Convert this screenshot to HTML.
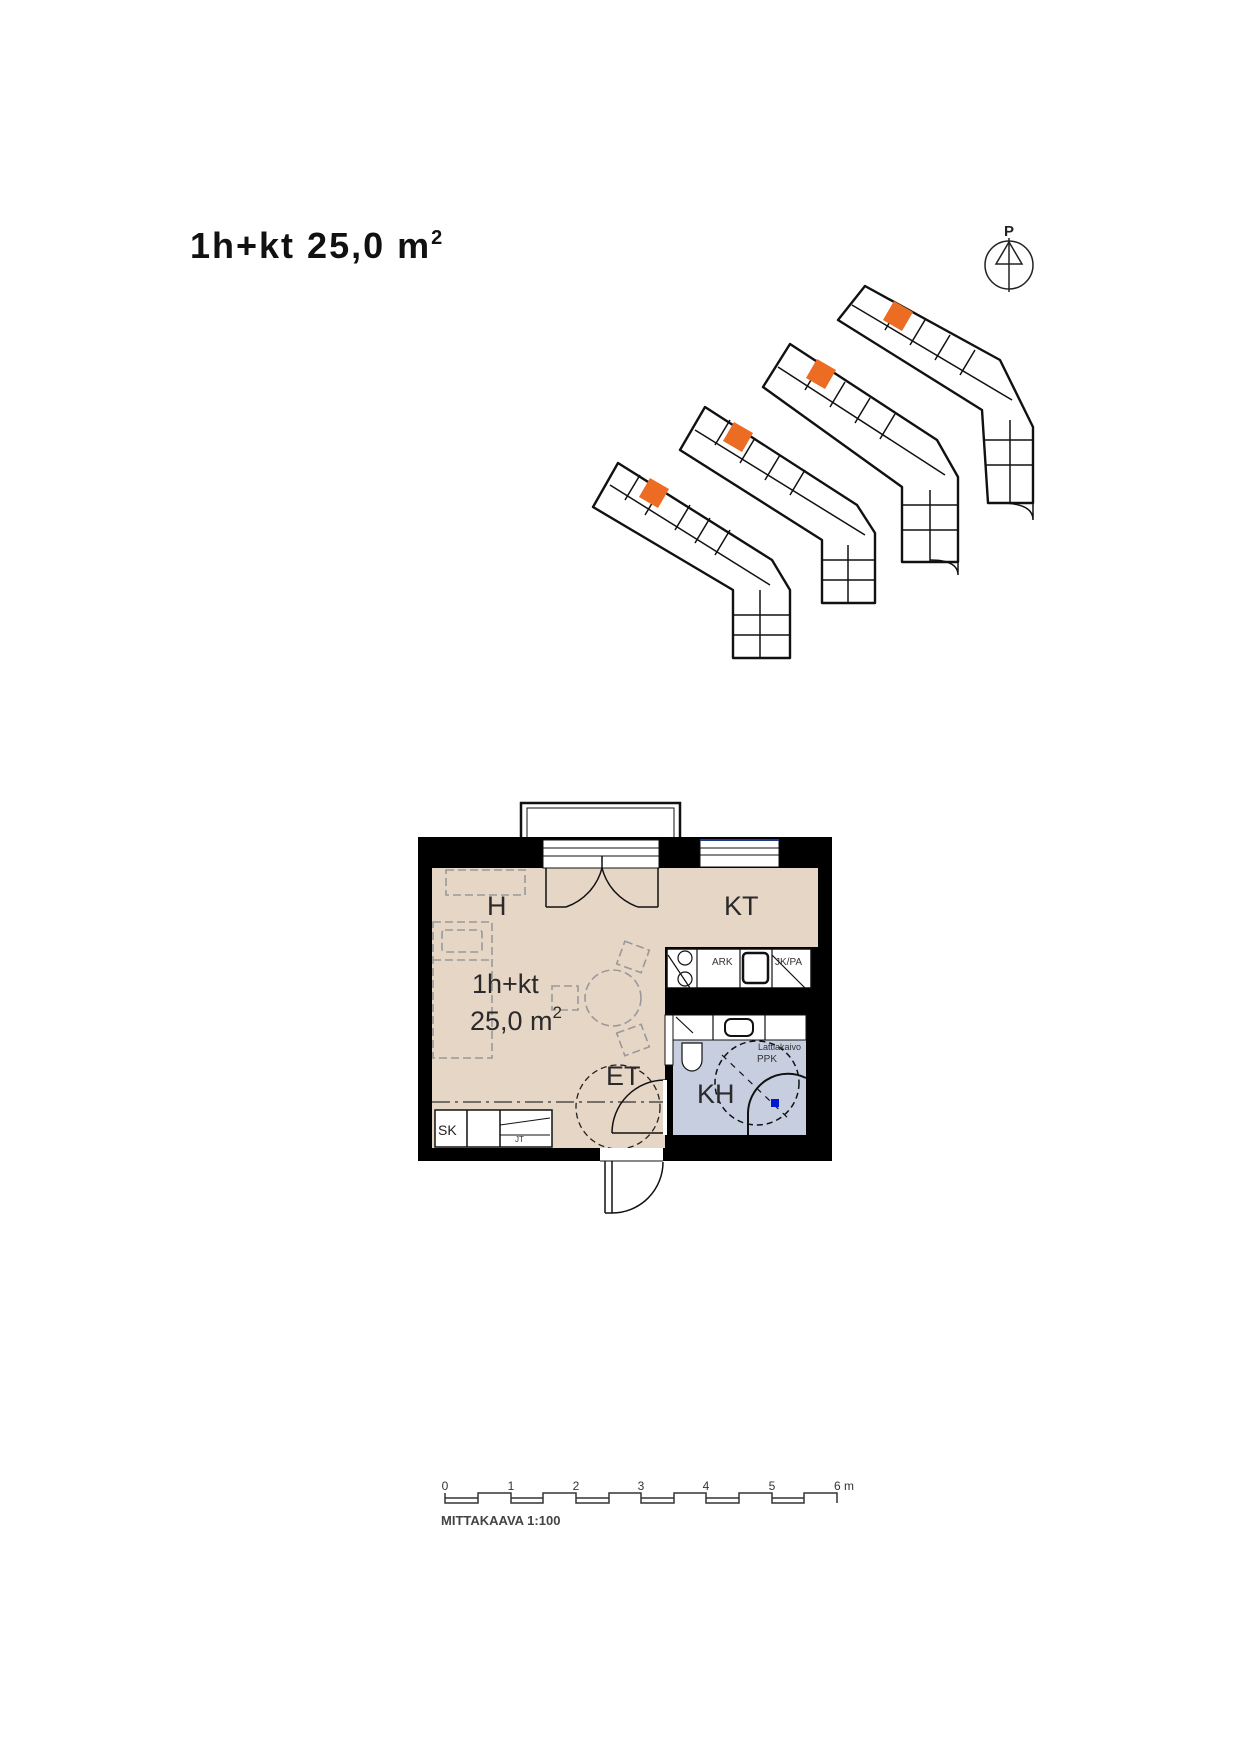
<!DOCTYPE html>
<html><head><meta charset="utf-8"><style>
html,body{margin:0;padding:0;background:#fff}
svg{display:block}
</style></head><body>
<svg width="1240" height="1754" viewBox="0 0 1240 1754" xmlns="http://www.w3.org/2000/svg" font-family="Liberation Sans, sans-serif">
<text x="190" y="258" font-size="36" font-weight="bold" fill="#111" letter-spacing="2">1h+kt 25,0 m<tspan font-size="20" dy="-14">2</tspan></text>

<!-- north arrow -->
<text x="1009" y="236" font-size="15" font-weight="bold" text-anchor="middle" fill="#222">P</text>
<circle cx="1009" cy="265" r="24" fill="none" stroke="#222" stroke-width="1.5"/>
<line x1="1009" y1="238" x2="1009" y2="292" stroke="#222" stroke-width="1.5"/>
<polygon points="1009,242 996,264 1022,264" fill="none" stroke="#222" stroke-width="1.5"/>

<!-- site buildings -->
<g fill="#fff" stroke="#111" stroke-width="2.4" stroke-linejoin="round">
<polygon points="618,463 772,560 790,590 790,658 733,658 733,590 593,507"/>
<polygon points="705,407 857,505 875,533 875,603 822,603 822,540 680,450"/>
<polygon points="790,344 937,440 958,477 958,562 902,562 902,487 763,387"/>
<polygon points="865,286 1000,360 1033,427 1033,503 988,503 982,410 838,320"/>
</g>
<g stroke="#111" stroke-width="1.5" fill="none">
<polyline points="610,485 770,585"/><line x1="640" y1="475" x2="625" y2="500"/><line x1="690" y1="505" x2="675" y2="530"/><line x1="730" y1="530" x2="715" y2="555"/><line x1="660" y1="490" x2="645" y2="515"/><line x1="710" y1="518" x2="695" y2="543"/><line x1="733" y1="615" x2="790" y2="615"/><line x1="760" y1="590" x2="760" y2="658"/><line x1="733" y1="635" x2="790" y2="635"/>
<polyline points="695,430 865,535"/><line x1="730" y1="420" x2="715" y2="445"/><line x1="780" y1="455" x2="765" y2="480"/><line x1="755" y1="438" x2="740" y2="463"/><line x1="805" y1="470" x2="790" y2="495"/><line x1="822" y1="560" x2="875" y2="560"/><line x1="848" y1="545" x2="848" y2="603"/><line x1="822" y1="580" x2="875" y2="580"/>
<polyline points="778,367 945,475"/><line x1="820" y1="365" x2="805" y2="390"/><line x1="870" y1="398" x2="855" y2="423"/><line x1="845" y1="382" x2="830" y2="407"/><line x1="895" y1="414" x2="880" y2="439"/><line x1="902" y1="505" x2="958" y2="505"/><line x1="930" y1="490" x2="930" y2="562"/><line x1="902" y1="530" x2="958" y2="530"/>
<polyline points="852,305 1012,400"/><line x1="900" y1="305" x2="885" y2="330"/><line x1="950" y1="335" x2="935" y2="360"/><line x1="925" y1="320" x2="910" y2="345"/><line x1="975" y1="350" x2="960" y2="375"/><line x1="985" y1="440" x2="1033" y2="440"/><line x1="1010" y1="420" x2="1010" y2="503"/><line x1="985" y1="465" x2="1033" y2="465"/>
<path d="M1033,503 L1033,520 Q1033,503 1000,503" /><path d="M958,560 L958,575 Q958,560 930,560"/>
</g>
<g fill="#ec6c24">
<rect x="643" y="482" width="22" height="22" transform="rotate(30 654 493)"/>
<rect x="727" y="426" width="22" height="22" transform="rotate(30 738 437)"/>
<rect x="810" y="363" width="22" height="22" transform="rotate(30 821 374)"/>
<rect x="887" y="305" width="22" height="22" transform="rotate(30 898 316)"/>
</g>

<!-- floor plan -->
<rect x="521" y="803" width="159" height="36" fill="#fff" stroke="#111" stroke-width="2.5"/>
<rect x="527" y="808" width="147" height="31" fill="none" stroke="#111" stroke-width="1"/>
<rect x="418" y="837" width="414" height="324" fill="#000"/>
<path d="M432,868 H818 V947 H665 V1148 H432 Z" fill="#e6d6c6"/>
<rect x="543" y="840" width="116" height="28" fill="#fff" stroke="#111" stroke-width="1"/>
<line x1="543" y1="848" x2="659" y2="848" stroke="#111"/><line x1="543" y1="856" x2="659" y2="856" stroke="#111"/>
<rect x="700" y="840" width="79" height="27" fill="#fff" stroke="#111" stroke-width="1"/>
<line x1="700" y1="840" x2="779" y2="840" stroke="#223a8a" stroke-width="2"/>
<line x1="700" y1="848" x2="779" y2="848" stroke="#111"/><line x1="700" y1="855" x2="779" y2="855" stroke="#111"/>
<g stroke="#111" stroke-width="1.5" fill="none">
<line x1="546" y1="868" x2="546" y2="907"/><line x1="546" y1="907" x2="566" y2="907"/>
<path d="M566,907 A56,56 0 0 0 602,868"/>
<line x1="658" y1="868" x2="658" y2="907"/><line x1="658" y1="907" x2="638" y2="907"/>
<path d="M638,907 A56,56 0 0 1 602,868"/>
<line x1="602" y1="856" x2="602" y2="870"/>
</g>
<rect x="667" y="949" width="144" height="39" fill="#fff" stroke="#111" stroke-width="1.5"/>
<rect x="667" y="988" width="165" height="27" fill="#000"/>
<g stroke="#111" stroke-width="1.2" fill="none">
<line x1="697" y1="949" x2="697" y2="988"/><line x1="740" y1="949" x2="740" y2="988"/><line x1="772" y1="949" x2="772" y2="988"/>
<circle cx="685" cy="958" r="7"/><circle cx="685" cy="979" r="7"/>
<rect x="743" y="953" width="25" height="30" rx="4" stroke-width="2.5"/>
<line x1="772" y1="955" x2="805" y2="988"/><line x1="668" y1="955" x2="690" y2="988"/>
</g>
<text x="712" y="965" font-size="10" fill="#333">ARK</text>
<text x="775" y="965" font-size="10" fill="#333">JK/PA</text>
<rect x="665" y="1015" width="167" height="146" fill="#000"/>
<rect x="673" y="1040" width="133" height="95" fill="#c6cee0"/>
<rect x="673" y="1015" width="133" height="25" fill="#fff" stroke="#111" stroke-width="1"/>
<rect x="665" y="1015" width="8" height="50" fill="#fff" stroke="#111" stroke-width="1"/>
<g stroke="#111" stroke-width="1.2" fill="none">
<line x1="713" y1="1015" x2="713" y2="1040"/><line x1="765" y1="1015" x2="765" y2="1040"/>
<rect x="725" y="1019" width="28" height="17" rx="6" stroke-width="2"/>
<line x1="676" y1="1017" x2="693" y2="1033"/>
<path d="M682,1043 V1060 A10,11 0 0 0 702,1060 V1043 Z" fill="#fff"/>
<circle cx="757" cy="1083" r="42" stroke-dasharray="6,4" stroke-width="1.5"/>
<path d="M748,1135 V1115 A40,40 0 0 1 806,1078" stroke-width="2"/>
<line x1="722" y1="1055" x2="790" y2="1120" stroke-dasharray="6,6"/>
</g>
<rect x="771" y="1099" width="8" height="8" fill="#0018d0"/>
<text x="758" y="1050" font-size="9" fill="#333">Lattiakaivo</text>
<text x="757" y="1062" font-size="10" fill="#333">PPK</text>
<rect x="435" y="1110" width="117" height="37" fill="#fff" stroke="#111" stroke-width="1.5"/>
<line x1="467" y1="1110" x2="467" y2="1147" stroke="#111" stroke-width="1.5"/>
<line x1="500" y1="1110" x2="500" y2="1147" stroke="#111" stroke-width="1.5"/>
<line x1="500" y1="1125" x2="550" y2="1118" stroke="#111"/><line x1="500" y1="1135" x2="550" y2="1135" stroke="#111"/>
<text x="438" y="1135" font-size="14" fill="#222">SK</text>
<text x="515" y="1142" font-size="8" fill="#333">JT</text>
<line x1="432" y1="1102" x2="665" y2="1102" stroke="#333" stroke-width="1.2" stroke-dasharray="18,5,3,5"/>
<circle cx="618" cy="1107" r="42" fill="none" stroke="#222" stroke-width="1.3" stroke-dasharray="6,4"/>
<g stroke="#111" stroke-width="1.5" fill="none">
<line x1="612" y1="1133" x2="665" y2="1133"/>
<path d="M612,1133 A53,53 0 0 1 665,1080"/>
<line x1="665" y1="1080" x2="665" y2="1135" stroke="#fff" stroke-width="4"/>
</g>
<rect x="600" y="1148" width="63" height="14" fill="#fff"/>
<line x1="600" y1="1161" x2="663" y2="1161" stroke="#111"/>
<g stroke="#111" stroke-width="1.5" fill="none">
<line x1="605" y1="1161" x2="605" y2="1213"/><line x1="612" y1="1161" x2="612" y2="1213"/>
<line x1="605" y1="1213" x2="612" y2="1213"/>
<path d="M612,1213 A51,51 0 0 0 663,1162"/>
</g>
<g stroke="#999" stroke-width="1.6" fill="none" stroke-dasharray="8,4">
<rect x="446" y="870" width="79" height="25"/>
<rect x="433" y="922" width="59" height="136"/>
<rect x="442" y="930" width="40" height="22" rx="3"/>
<line x1="433" y1="960" x2="492" y2="960"/>
<circle cx="613" cy="998" r="28"/>
<rect x="620" y="945" width="26" height="24" transform="rotate(20 633 957)"/>
<rect x="620" y="1028" width="26" height="24" transform="rotate(-20 633 1040)"/>
<rect x="552" y="986" width="26" height="24"/>
</g>
<g fill="#2a2a2a" font-size="27">
<text x="487" y="915">H</text>
<text x="724" y="915">KT</text>
<text x="472" y="993">1h+kt</text>
<text x="470" y="1030">25,0 m<tspan font-size="17" dy="-12">2</tspan></text>
<text x="606" y="1085">ET</text>
<text x="697" y="1103">KH</text>
</g>

<g font-size="12" fill="#333">
<text x="445" y="1490" text-anchor="middle">0</text>
<text x="511" y="1490" text-anchor="middle">1</text>
<text x="576" y="1490" text-anchor="middle">2</text>
<text x="641" y="1490" text-anchor="middle">3</text>
<text x="706" y="1490" text-anchor="middle">4</text>
<text x="772" y="1490" text-anchor="middle">5</text>
<text x="844" y="1490" text-anchor="middle">6 m</text>
</g>
<g stroke="#333" stroke-width="1.5" fill="none">
<path d="M445,1493 V1503 H478 V1493 H511 V1503 H543 V1493 H576 V1503 H609 V1493 H641 V1503 H674 V1493 H706 V1503 H739 V1493 H772 V1503 H804 V1493 H837 V1503"/>
<path d="M445,1498 H478 M511,1498 H543 M576,1498 H609 M641,1498 H674 M706,1498 H739 M772,1498 H804"/>
</g>
<text x="441" y="1525" font-size="13" font-weight="bold" fill="#444">MITTAKAAVA 1:100</text>
</svg>
</body></html>
